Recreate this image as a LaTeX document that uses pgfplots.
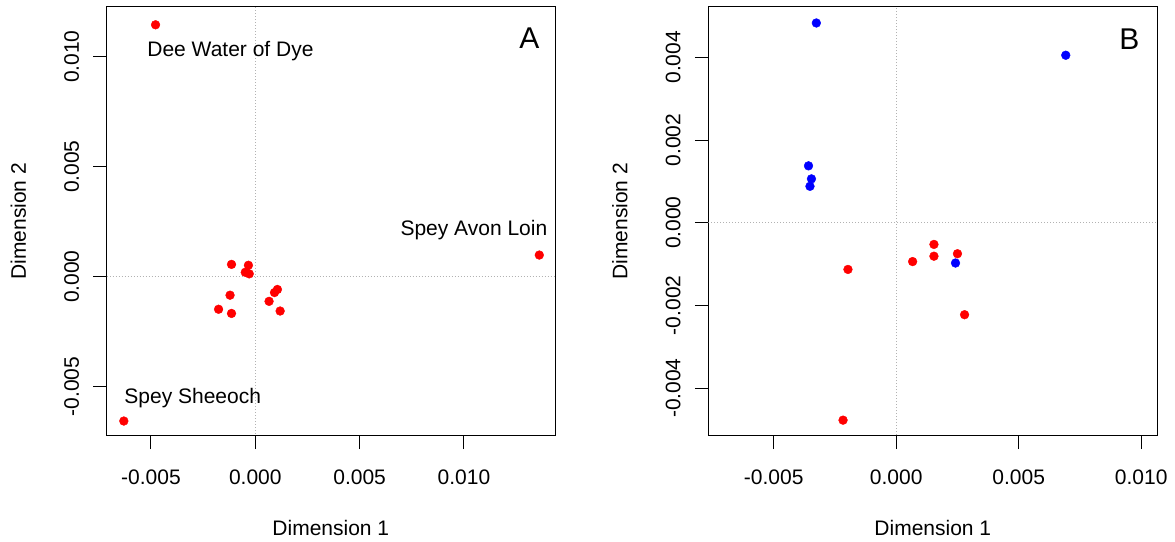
\documentclass[border=0pt]{standalone}
\usepackage{pgfplots}
\pgfplotsset{compat=1.18}
\usepackage{fontspec}
\setmainfont{Liberation Sans}
\definecolor{rred}{RGB}{255,0,0}
\definecolor{rblue}{RGB}{0,0,255}
\pgfplotsset{
  rstyle/.style={
    scale only axis,
    axis line style={line width=1pt},
    tick style={line width=1pt, black},
    major tick length=13.4pt,
    tick align=outside,
    tick pos=left,
    scaled ticks=false,
    /pgf/number format/assume math mode=true,
    font=\fontsize{21}{24}\selectfont,
    yticklabel style={rotate=90, anchor=south, yshift=10.7pt},
    xticklabel style={anchor=north, yshift=-17pt},
    clip=true,
  }
}
\begin{document}
\begin{tikzpicture}[x=1pt,y=1pt]
\useasboundingbox (0,0) rectangle (1175,541);
% Panel A
\begin{axis}[rstyle,
  at={(106.7pt,105.3pt)}, anchor=south west,
  width=448.3pt, height=429pt,
  xmin=-0.007121, xmax=0.014362, ymin=-0.007227, ymax=0.012273,
  xtick={-0.005,0,0.005,0.010}, xticklabels={\mbox{-0.005},\mbox{0.000},\mbox{0.005},\mbox{0.010}},
  ytick={-0.005,0,0.005,0.010}, yticklabels={\mbox{-0.005},\mbox{0.000},\mbox{0.005},\mbox{0.010}},
  xlabel={Dimension 1}, ylabel={Dimension 2},
  xlabel style={at={(axis description cs:0.5,-0.2147)}, anchor=center},
  ylabel style={at={(axis description cs:-0.1972,0.5)}, anchor=center},
]
\addplot[gray!60, dotted, line width=1pt] coordinates {(0,-0.01) (0,0.02)};
\addplot[gray!60, dotted, line width=1pt] coordinates {(-0.01,0) (0.02,0)};
\addplot[only marks, mark=*, mark size=4.4pt, color=rred] coordinates {
(-0.00478,0.01145) (0.01361,0.000984) (-0.0063,-0.00656)
(-0.00114,0.00056) (-0.00033,0.00052) (-0.00048,0.0002) (-0.00029,0.00013)
(-0.00121,-0.00084) (-0.00176,-0.00148) (-0.00114,-0.00167)
(0.00066,-0.00112) (0.00092,-0.00072) (0.00106,-0.00058) (0.00119,-0.00156)
};
\node[anchor=base west, inner sep=0pt] at (axis cs:-0.00518,0.01003) {Dee Water of Dye};
\node[anchor=base east, inner sep=0pt] at (axis cs:0.0140,0.00186) {Spey Avon Loin};
\node[anchor=base west, inner sep=0pt] at (axis cs:-0.00628,-0.00577) {Spey Sheeoch};
\node[anchor=base, inner sep=0pt, font=\fontsize{30}{32}\selectfont] at (rel axis cs:0.943,0.9035) {A};
\end{axis}
% Panel B
\begin{axis}[rstyle,
  at={(708.3pt,105.3pt)}, anchor=south west,
  width=449pt, height=429pt,
  xmin=-0.00767, xmax=0.010657, ymin=-0.005151, ymax=0.005224,
  xtick={-0.005,0,0.005,0.010}, xticklabels={\mbox{-0.005},\mbox{0.000},\mbox{0.005},\mbox{0.010}},
  ytick={-0.004,-0.002,0,0.002,0.004}, yticklabels={\mbox{-0.004},\mbox{-0.002},\mbox{0.000},\mbox{0.002},\mbox{0.004}},
  xlabel={Dimension 1}, ylabel={Dimension 2},
  xlabel style={at={(axis description cs:0.5,-0.2147)}, anchor=center},
  ylabel style={at={(axis description cs:-0.1967,0.5)}, anchor=center},
]
\addplot[gray!60, dotted, line width=1pt] coordinates {(0,-0.01) (0,0.01)};
\addplot[gray!60, dotted, line width=1pt] coordinates {(-0.01,0) (0.02,0)};
\addplot[only marks, mark=*, mark size=4.4pt, color=rred] coordinates {
(0.00154,-0.000525) (0.00154,-0.00081) (0.0025,-0.00075) (0.00067,-0.00094)
(-0.00197,-0.00113) (0.00279,-0.002225) (-0.00217,-0.004775)
};
\addplot[only marks, mark=*, mark size=4.4pt, color=rblue] coordinates {
(-0.00326,0.00483) (0.00692,0.00405) (-0.00358,0.001375)
(-0.00346,0.00106) (-0.00352,0.00088) (0.00242,-0.000975)
};
\node[anchor=base, inner sep=0pt, font=\fontsize{30}{32}\selectfont] at (rel axis cs:0.9377,0.901) {B};
\end{axis}
\end{tikzpicture}
\end{document}
